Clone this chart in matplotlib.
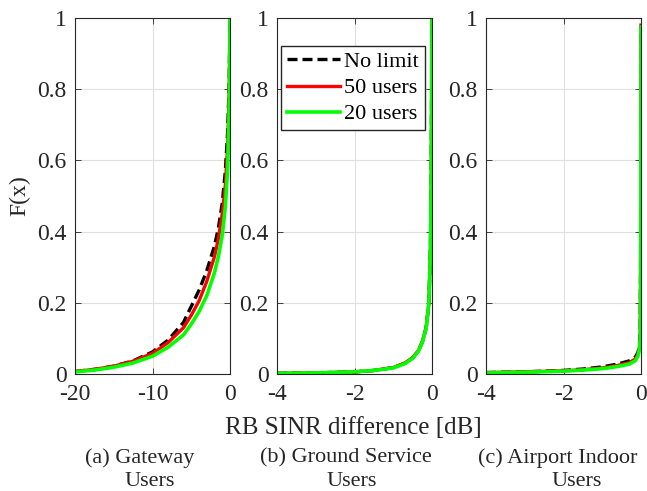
import matplotlib.pyplot as plt

# (a) Gateway users
gw_x = [-20, -17.5, -15, -12.5, -10, -8, -6, -5, -4, -3, -2, -1.5, -1, -0.6, -0.3, -0.1, 0]
gw_nolimit = [0.007, 0.013, 0.022, 0.037, 0.062, 0.095, 0.145, 0.19, 0.235, 0.29, 0.36, 0.41, 0.48, 0.57, 0.68, 0.82, 1.0]
gw_50 = [0.007, 0.013, 0.022, 0.036, 0.058, 0.088, 0.13, 0.165, 0.205, 0.26, 0.33, 0.38, 0.45, 0.53, 0.64, 0.8, 1.0]
gw_20 = [0.006, 0.011, 0.019, 0.031, 0.05, 0.075, 0.11, 0.14, 0.175, 0.22, 0.285, 0.33, 0.39, 0.47, 0.58, 0.75, 1.0]

# (b) Ground service users
gs_x = [-4, -3, -2, -1.5, -1, -0.7, -0.5, -0.35, -0.25, -0.15, -0.08, -0.04, -0.02, 0]
gs_nolimit = [0.002, 0.003, 0.006, 0.01, 0.018, 0.03, 0.045, 0.065, 0.09, 0.13, 0.2, 0.35, 0.55, 1.0]
gs_50 = [0.002, 0.003, 0.006, 0.01, 0.018, 0.031, 0.046, 0.066, 0.091, 0.13, 0.2, 0.35, 0.55, 1.0]
gs_20 = [0.002, 0.003, 0.006, 0.01, 0.017, 0.029, 0.044, 0.064, 0.089, 0.128, 0.2, 0.35, 0.55, 1.0]

# (c) Airport indoor users
ai_x = [-4, -3, -2, -1.5, -1, -0.6, -0.3, -0.15, -0.08, -0.04, -0.02, -0.01, 0]
ai_nolimit = [0.004, 0.006, 0.01, 0.014, 0.02, 0.028, 0.037, 0.047, 0.06, 0.08, 0.12, 0.3, 0.98]
ai_50 = [0.004, 0.006, 0.009, 0.012, 0.017, 0.024, 0.032, 0.042, 0.055, 0.075, 0.11, 0.28, 0.98]
ai_20 = [0.003, 0.005, 0.008, 0.011, 0.015, 0.021, 0.028, 0.037, 0.05, 0.07, 0.1, 0.25, 0.975]

captions = [('(a) Gateway', 'Users'), ('(b) Ground Service', 'Users'),
            ('(c) Airport Indoor', 'Users')]
xlims = [(-20, 0), (-4, 0), (-4, 0)]
xticks = [[-20, -10, 0], [-4, -2, 0], [-4, -2, 0]]
panels = [(gw_x, gw_nolimit, gw_50, gw_20),
          (gs_x, gs_nolimit, gs_50, gs_20),
          (ai_x, ai_nolimit, ai_50, ai_20)]

plt.rcParams['font.family'] = ['Liberation Serif', 'DejaVu Serif']

fig = plt.figure(figsize=(6.47, 4.91), dpi=100)
W, H = 647, 491
lefts = [75, 277, 486]
cap_x1 = [140, 346, 558]
cap_x2 = [150, 352, 577]
axes = []
for i, left in enumerate(lefts):
    ax = fig.add_axes([left / W, (H - 374) / H, 155 / W, (374 - 18) / H])
    x, nl, u50, u20 = panels[i]
    ax.plot(x, nl, color='black', ls=(0, (3, 1.5)), lw=2.4, label='No limit')
    ax.plot(x, u50, color='#ff0000', lw=2.4, label='50 users')
    ax.plot(x, u20, color='#00ff00', lw=2.6, label='20 users')
    ax.set_xlim(*xlims[i])
    ax.set_ylim(0, 1)
    ax.set_xticks(xticks[i])
    ax.set_xticklabels([str(t) for t in xticks[i]])
    ax.set_yticks([0, 0.2, 0.4, 0.6, 0.8, 1])
    ax.set_yticklabels(['0', '0.2', '0.4', '0.6', '0.8', '1'])
    ax.grid(True, color='#e0e0e0', lw=0.8)
    ax.set_axisbelow(True)
    ax.tick_params(direction='in', top=True, right=True, colors='#262626',
                   labelsize=17, length=4, width=0.6)
    ax.tick_params(axis='x', pad=7)
    ax.tick_params(axis='y', pad=6)
    for s in ax.spines.values():
        s.set_color('#262626')
        s.set_linewidth(0.8)
    fig.text(cap_x1[i] / W, 1 - 458 / H, captions[i][0], ha='center', va='center',
             fontsize=16, color='#262626')
    fig.text(cap_x2[i] / W, 1 - 482 / H, captions[i][1], ha='center', va='center',
             fontsize=16, color='#262626')
    axes.append(ax)

axes[1].legend(loc='upper left', bbox_to_anchor=(0.026, 0.921), fontsize=16,
               handlelength=2.4, handletextpad=0.2, borderpad=0.25,
               labelspacing=0.25, fancybox=False, edgecolor='#262626',
               framealpha=1, borderaxespad=0)

axes[0].set_ylabel('F(x)', fontsize=17, color='#262626')
axes[0].yaxis.set_label_coords(-0.29, 0.5)
fig.text(353 / W, 1 - 428 / H, 'RB SINR difference [dB]', ha='center', va='center',
         fontsize=18, color='#262626')

fig.savefig('out.png', dpi=100)
